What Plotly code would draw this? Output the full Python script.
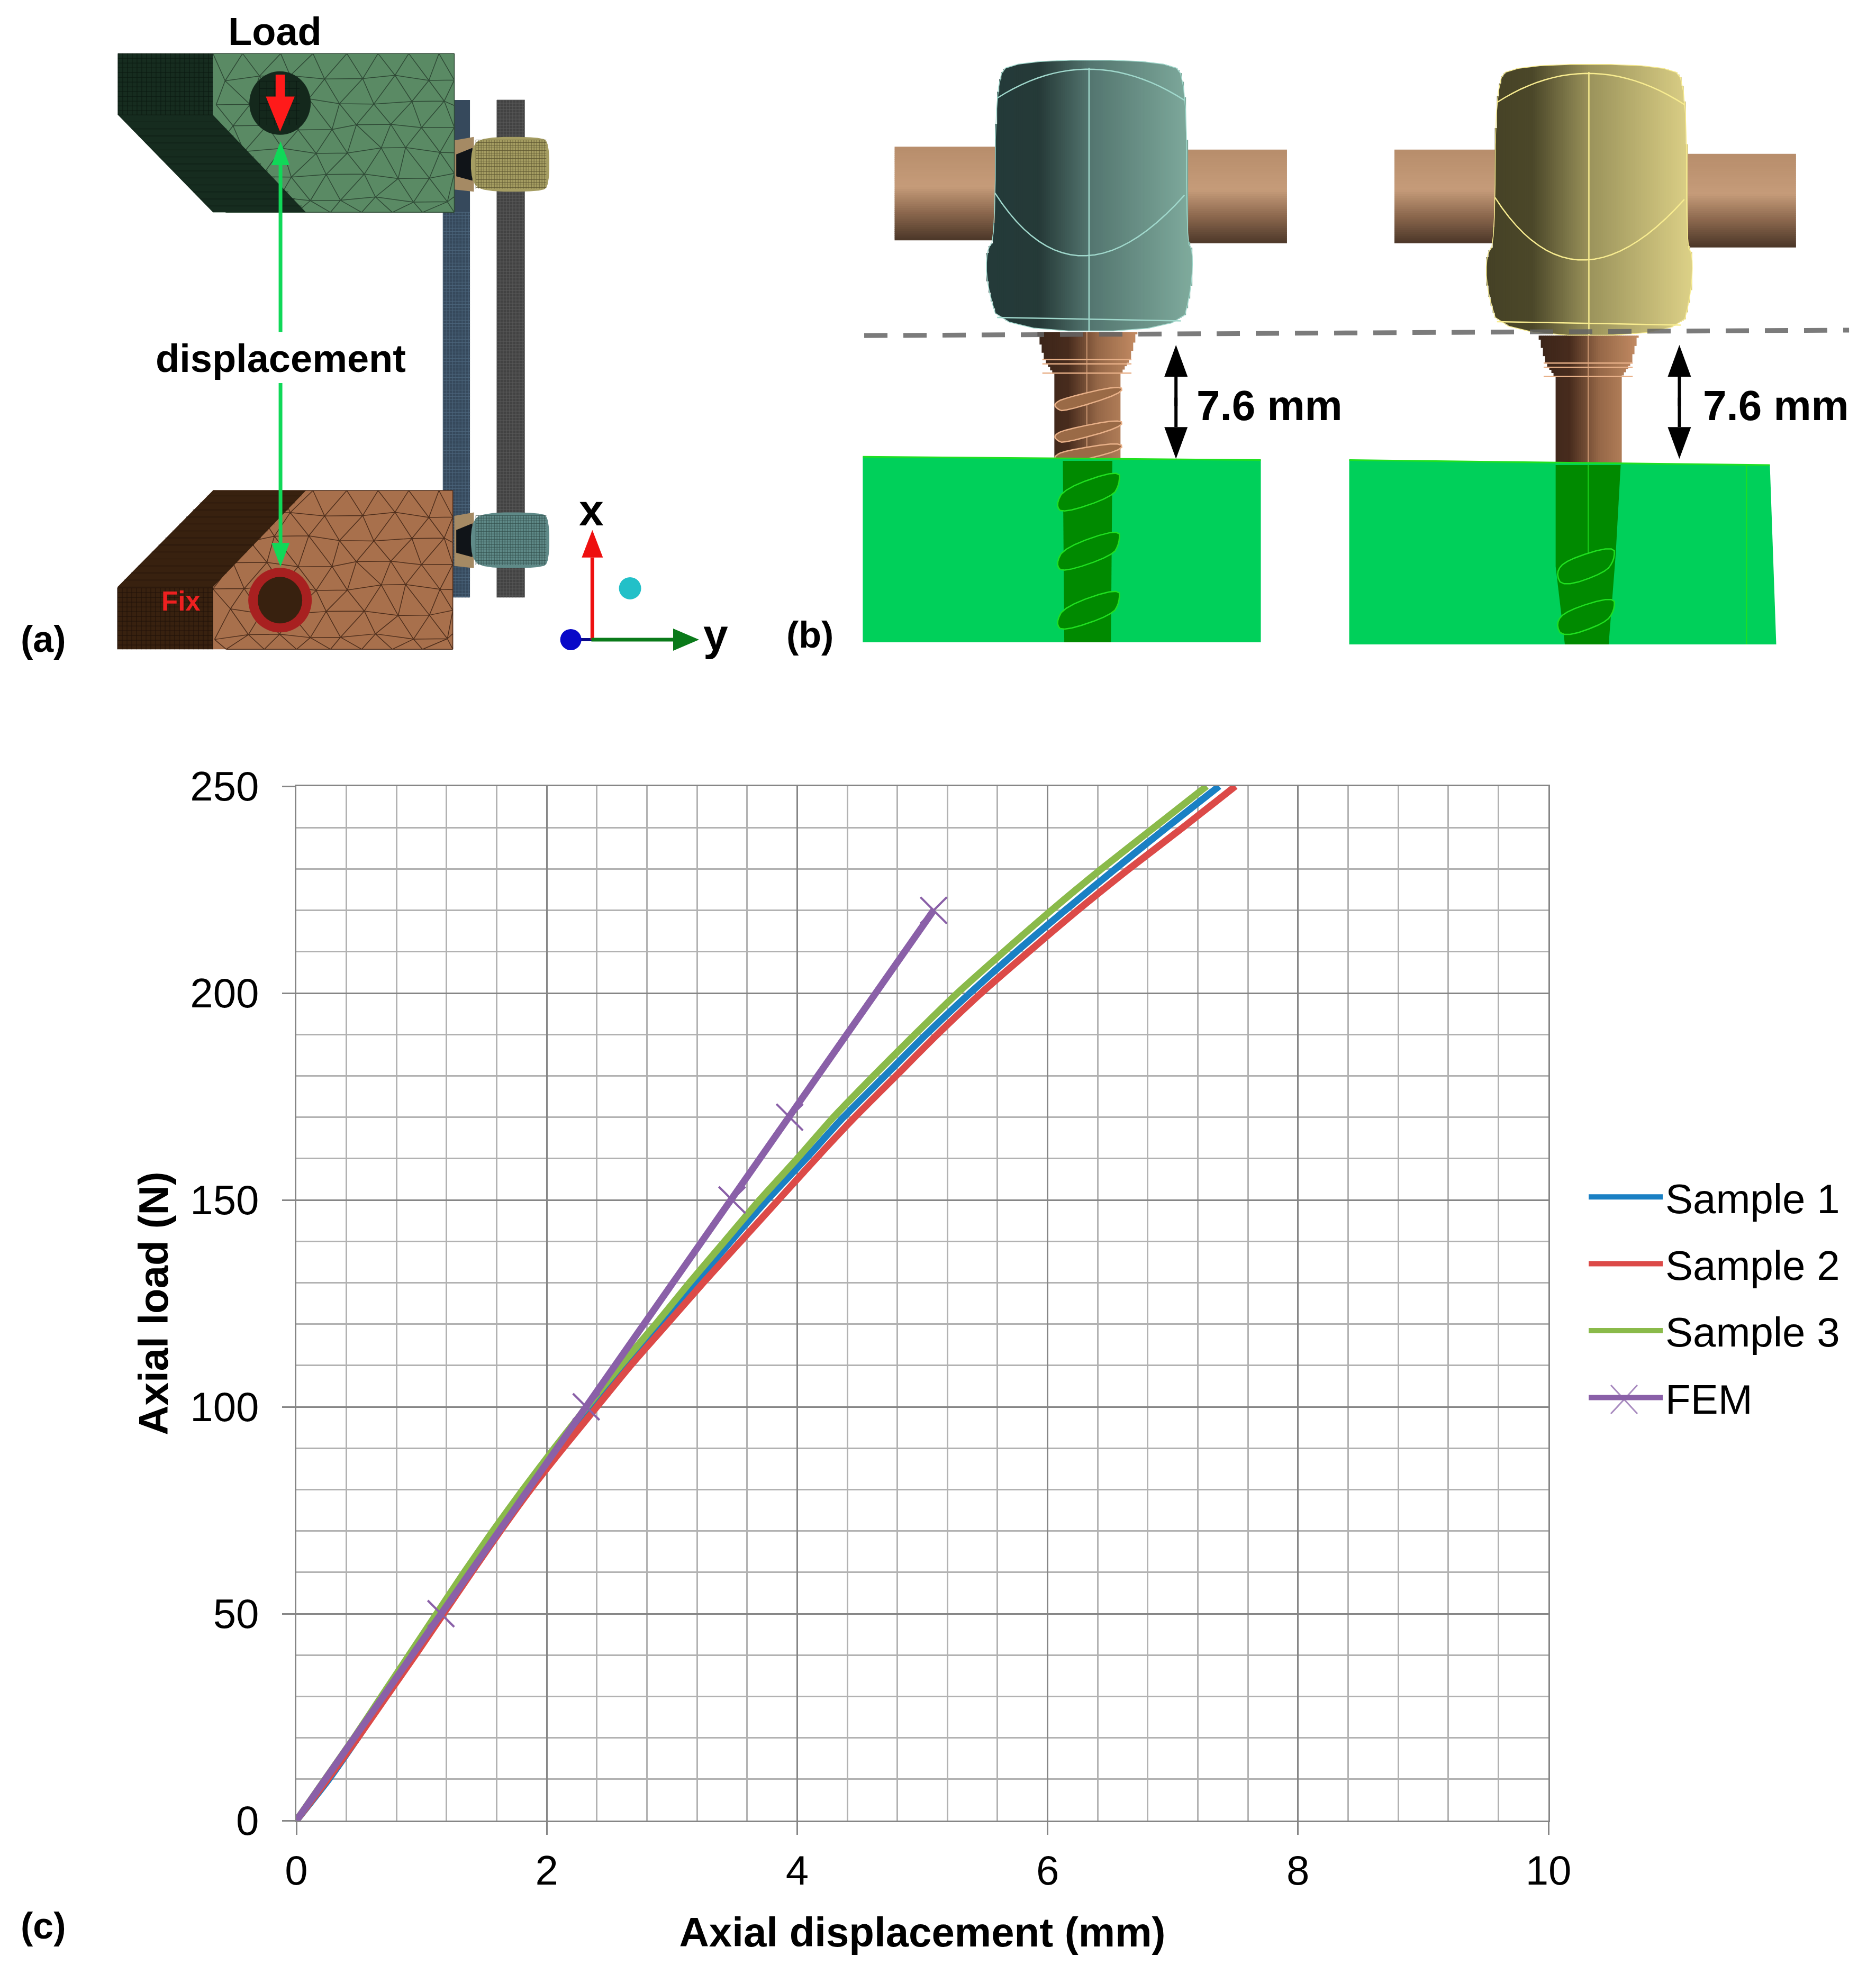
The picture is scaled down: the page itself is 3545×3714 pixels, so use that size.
import numpy as np
import plotly.graph_objects as go

W, H = 3545, 3714
# plot area in page pixels, and the page's own body margin
(PL, PR, PT, PB) = (560, 2926, 1486, 3441)
BODY = 8

###############################################################################
# Chart data
###############################################################################
SERIES = ['Sample 1', 'Sample 2', 'Sample 3', 'FEM']
COLORS = ['#1a80c4', '#dc4a48', '#8aba4a', '#8a60a8']
LOADS = [0, 10, 20, 30, 40, 50, 60, 70, 80, 90, 100, 110, 120, 130, 140, 150,
         160, 170, 180, 190, 200, 210, 220, 230, 240, 250]
SAMPLE1 = [0, .26, .49, .71, .93, 1.15, 1.38, 1.61, 1.85, 2.10, 2.36, 2.64,
           2.92, 3.19, 3.47, 3.76, 4.07, 4.37, 4.70, 5.03, 5.38, 5.75, 6.14,
           6.54, 6.95, 7.37]
SAMPLE2 = [0, .25, .49, .72, .95, 1.175, 1.40, 1.63, 1.87, 2.13, 2.40, 2.67,
           2.96, 3.25, 3.55, 3.85, 4.15, 4.46, 4.79, 5.12, 5.47, 5.85, 6.24,
           6.65, 7.08, 7.50]
SAMPLE3 = [0, .23, .46, .68, .90, 1.12, 1.34, 1.57, 1.81, 2.06, 2.32, 2.59,
           2.87, 3.14, 3.42, 3.70, 4.00, 4.29, 4.61, 4.94, 5.28, 5.65, 6.03,
           6.43, 6.85, 7.27]
FEM_X = [0, 1.155, 2.315, 3.48, 3.94, 5.09]
FEM_Y = [0, 50, 100, 150, 170, 220]

FONT = 'Liberation Sans'
shapes, notes = [], []


# Page pixels -> paper coordinates ---------------------------------------------
def fx(x):
    return (x - PL) / (PR - PL)


def fy(y):
    return (PB - y) / (PB - PT)


# Crop coordinates of the two drawings -> page pixels --------------------------
def A(X, Y):
    return (X / 1.081, Y / 1.206)


def B(X, Y):
    return (1450 + X / .7485, 50 + Y / 1.2544)


def pathOf(pts, close=True):
    s = 'M' + ' L'.join('{:.5f},{:.5f}'.format(fx(x), fy(y)) for (x, y) in pts)
    return s + (' Z' if close else '')


def poly(pts, fill, line=None, lw=0):
    shapes.append(dict(
        type='path', xref='paper', yref='paper', path=pathOf(pts),
        fillcolor=fill, line=dict(color=line or fill, width=lw)
    ))


def stroke(pts, color, lw, dash=None):
    shapes.append(dict(
        type='path', xref='paper', yref='paper', path=pathOf(pts, False),
        line=dict(color=color, width=lw, dash=dash or 'solid')
    ))


def multi(segs, color, lw):
    # Many line pieces in one path, so the mesh stays light
    s = ' '.join(pathOf(seg, False) for seg in segs)
    shapes.append(dict(
        type='path', xref='paper', yref='paper', path=s,
        line=dict(color=color, width=lw)
    ))


def ellipse(cx, cy, rx, ry, fill):
    shapes.append(dict(
        type='circle', xref='paper', yref='paper', fillcolor=fill,
        x0=fx(cx - rx), x1=fx(cx + rx), y0=fy(cy + ry), y1=fy(cy - ry),
        line=dict(width=0)
    ))


def text(x, y, s, size, color='#000000', bold=True):
    notes.append(dict(
        xref='paper', yref='paper', x=fx(x), y=fy(y), showarrow=False,
        text='<b>{}</b>'.format(s) if bold else s, xanchor='center',
        yanchor='middle', font=dict(family=FONT, size=size, color=color)
    ))


def mixColor(stops, t):
    for (i, (t1, c1)) in enumerate(stops[1:]):
        t0, c0 = stops[i]
        if t <= t1:
            k = (t - t0) / (t1 - t0)
            rgb = [int(c0[j] + (c1[j] - c0[j]) * k) for j in range(3)]
            return 'rgb({},{},{})'.format(*rgb)
    return 'rgb({},{},{})'.format(*stops[-1][1])


def scan(pts, v, axis):
    # Where the outline crosses a scan line
    cross = []
    for i in range(len(pts)):
        p, q = pts[i], pts[(i + 1) % len(pts)]
        if (p[axis] - v) * (q[axis] - v) <= 0 and p[axis] != q[axis]:
            k = (v - p[axis]) / (q[axis] - p[axis])
            cross.append(p[1 - axis] + k * (q[1 - axis] - p[1 - axis]))
    return (min(cross), max(cross)) if cross else None


def gradient(pts, stops, axis=0, step=4):
    # Shaded solid drawn as thin strips, across x (axis=0) or y (axis=1)
    vals = [p[axis] for p in pts]
    (lo, hi) = (min(vals), max(vals))
    for v in np.arange(lo, hi, step):
        span = scan(pts, v + step / 2, axis)
        if span is None:
            continue
        col = mixColor(stops, (v - lo) / (hi - lo))
        if axis == 0:
            rect = [(v, span[0]), (v + step + 1, span[0]),
                    (v + step + 1, span[1]), (v, span[1])]
        else:
            rect = [(span[0], v), (span[1], v),
                    (span[1], v + step + 1), (span[0], v + step + 1)]
        poly(rect, col)


def bezier(p0, p1, p2, n=24):
    t = np.linspace(0, 1, n)
    return [((1 - k)**2 * p0[0] + 2 * k * (1 - k) * p1[0] + k**2 * p2[0],
             (1 - k)**2 * p0[1] + 2 * k * (1 - k) * p1[1] + k**2 * p2[1])
            for k in t]


def rounded(pts, times=3):
    # Corner cutting, for the soft outlines of heads, nuts and threads
    for _ in range(times):
        out = []
        for i in range(len(pts)):
            p, q = pts[i], pts[(i + 1) % len(pts)]
            out.append((.75 * p[0] + .25 * q[0], .75 * p[1] + .25 * q[1]))
            out.append((.25 * p[0] + .75 * q[0], .25 * p[1] + .75 * q[1]))
        pts = out
    return pts


JIT = [-9, 5, -3, 8, -6, 2, 7, -8, 4, -2, 9, -5, 3, -7, 6]


def triMesh(x0, x1, y0, y1, dx, dy, color):
    # Triangle mesh on a rough lattice, its edges kept on the block's border
    cols = int((x1 - x0) / dx) + 1
    rows = int((y1 - y0) / dy) + 1
    grid = []
    for r in range(rows + 1):
        row = []
        for c in range(cols + 1):
            gx = min(x1, max(x0, x0 + c * dx + (dx / 2 if r % 2 else 0)
                             + JIT[(r * 7 + c * 4) % 15]))
            gy = min(y1, y0 + r * dy + JIT[(r * 3 + c * 8) % 15] * .7)
            gy = y0 if r == 0 else gy
            row.append((gx, gy))
        grid.append(row)
    segs = []
    for r in range(rows + 1):
        for c in range(cols + 1):
            if c < cols:
                segs.append([grid[r][c], grid[r][c + 1]])
            if r < rows:
                segs.append([grid[r][c], grid[r + 1][c]])
                d = c + 1 if r % 2 else c - 1
                if 0 <= d <= cols:
                    segs.append([grid[r][c], grid[r + 1][d]])
    multi(segs, color, 1.5)


def fineGrid(x0, x1, y0, y1, step, color, lw=1):
    segs = [[(x, y0), (x, y1)] for x in np.arange(x0, x1, step)]
    segs += [[(x0, y), (x1, y)] for y in np.arange(y0, y1, step)]
    multi(segs, color, lw)


def arrow(tail, tip, half, head, color, lw):
    (ax, ay) = tail
    (bx, by) = tip
    L = np.hypot(bx - ax, by - ay)
    (ux, uy) = ((bx - ax) / L, (by - ay) / L)
    (cx, cy) = (bx - ux * head, by - uy * head)
    stroke([(ax, ay), (cx, cy)], color, lw)
    poly([(bx, by), (cx - uy * half, cy + ux * half),
          (cx + uy * half, cy - ux * half)], color)


###############################################################################
# Panel (a): meshed model
###############################################################################
# Rods -------------------------------------------------------------------------
poly([A(928, 228), A(960, 228), A(960, 1362), A(905, 1362), A(905, 484), A(928, 484)], '#36495c')
fineGrid(A(905, 0)[0], A(960, 0)[0], A(0, 484)[1], A(0, 1362)[1], 6, '#4c667c')
poly([A(1015, 228), A(1072, 228), A(1072, 1362), A(1015, 1362)], '#424242')
fineGrid(A(1015, 0)[0], A(1072, 0)[0], A(0, 228)[1], A(0, 1362)[1], 6, '#5c5c5c')
# Nuts -------------------------------------------------------------------------
for (top, bot, col, dark) in ((312, 437, '#a59d62', '#5c5530'), (1168, 1295, '#5f8a88', '#2e4a48')):
    poly([A(928, top + 8), A(968, top), A(968, bot), A(928, bot - 5)], '#a58a64')
    poly([A(932, top + 40), A(965, top + 25), A(965, bot - 25), A(932, bot - 35)], '#101418')
    nut = [A(985, top), A(1105, top), A(1122, top + 14), A(1122, bot - 14),
           A(1105, bot), A(985, bot), A(962, bot - 25), A(962, top + 25)]
    poly(rounded(nut, 2), col)
    fineGrid(A(972, 0)[0], A(1116, 0)[0], A(0, top + 7)[1], A(0, bot - 7)[1], 5, dark, .8)
# Upper block ------------------------------------------------------------------
poly([A(435, 122), A(928, 122), A(928, 484), A(435, 484)], '#5a8a64')
(x0, y0), (x1, y1) = A(435, 122), A(928, 484)
triMesh(x0, x1, y0, y1, 62, 46, '#2f4a36')
poly([A(241, 122), A(435, 122), A(435, 262), A(625, 484), A(435, 484), A(241, 262)], '#162c1f')
fineGrid(A(241, 0)[0], A(435, 0)[0], A(0, 122)[1], A(0, 262)[1], 9, '#0c1a12')
multi([[A(241 + k, 262 + k * 1.14), A(435 + k, 262 + k * 1.14)] for k in range(0, 190, 14)],
      '#0c1a12', 1)
ellipse(*A(572, 235), 58, 60, '#14281c')
fineGrid(A(530, 0)[0], A(612, 0)[0], A(0, 185)[1], A(0, 285)[1], 14, '#0c1a12')
poly([A(563, 170), A(582, 170), A(582, 220), A(602, 220), A(572, 300), A(543, 220), A(563, 220)], '#ff1a1a')
# Lower block ------------------------------------------------------------------
poly([A(435, 1118), A(925, 1118), A(925, 1480), A(435, 1480)], '#a8704c')
(x0, y0), (x1, y1) = A(435, 1118), A(925, 1480)
triMesh(x0, x1, y0, y1, 62, 46, '#4e2e1c')
poly([A(435, 1118), A(625, 1118), A(435, 1338), A(435, 1480), A(240, 1480), A(240, 1338)], '#38210f')
multi([[A(240 + k, 1338 - k * 1.14), A(435 + k, 1338 - k * 1.14)] for k in range(0, 190, 14)],
      '#20120a', 1)
fineGrid(A(240, 0)[0], A(435, 0)[0], A(0, 1340)[1], A(0, 1480)[1], 9, '#20120a')
ellipse(*A(572, 1368), 60, 61, '#a82020')
ellipse(*A(572, 1368), 42, 44, '#38210f')
# Displacement arrow -----------------------------------------------------------
arrow(A(573, 757), A(573, 322), 17, 45, '#10d858', 7)
arrow(A(573, 873), A(573, 1292), 17, 45, '#10d858', 7)
# Axes triad -------------------------------------------------------------------
stroke([A(1166, 1458), A(1210, 1458)], '#0a0a8a', 6)
ellipse(*A(1166, 1458), 20, 20, '#0808c8')
ellipse(*A(1287, 1341), 21, 21, '#22c0c8')
arrow(A(1210, 1458), A(1210, 1208), 20, 52, '#ee1010', 7)
arrow(A(1208, 1458), A(1428, 1458), 21, 49, '#0a7a1a', 7)
# Panel (a) labels -------------------------------------------------------------
text(519, 59, 'Load', 74)
text(530, 678, 'displacement', 74)
text(342, 1136, 'Fix', 51, '#ee2020')
text(1117, 964, 'x', 84)
text(1352, 1200, 'y', 84)
text(82, 1208, '(a)', 70)

###############################################################################
# Panel (b): screws in bone blocks
###############################################################################
PEG = [(0, (184, 142, 108)), (.42, (198, 156, 122)), (.7, (140, 104, 78)), (1, (74, 54, 40))]
BROWN = [(0, (60, 38, 26)), (.3, (72, 44, 30)), (.6, (150, 104, 72)), (1, (196, 140, 100))]
TEAL = [(0, (36, 58, 58)), (.25, (38, 58, 56)), (.5, (84, 118, 112)), (1, (128, 172, 158))]
SAND = [(0, (70, 66, 38)), (.22, (76, 72, 42)), (.5, (156, 148, 92)), (1, (222, 210, 136))]


def screwHead(dx, dy, stops, edge):
    outline = [(345, 80), (570, 80), (593, 130), (593, 510), (602, 530),
               (600, 620), (585, 722), (330, 722), (310, 610), (310, 530),
               (322, 505), (323, 130)]
    pts = rounded([B(X + dx, Y + dy) for (X, Y) in outline], 2)
    gradient(pts, stops)
    cx = 455 + dx
    arcs = [
        bezier(B(325 + dx, 170 + dy), B(cx, 30 + dy), B(590 + dx, 175 + dy)),
        bezier(B(322 + dx, 395 + dy), B(cx - 20, 690 + dy), B(590 + dx, 400 + dy)),
        [B(cx, 98 + dy), B(cx, 722 + dy)],
        [B(325 + dx, 690 + dy), B(585 + dx, 698 + dy)],
    ]
    for arc in arcs:
        stroke(arc, edge, 2.5)
    stroke(pts + [pts[0]], edge, 1.5)


def neck(top, mid, low, dy, cx, bottom):
    outline = [(cx - top, 725 + dy), (cx + top, 725 + dy), (cx + mid, 790 + dy),
               (cx + low, 825 + dy), (cx + low, bottom), (cx - low, bottom),
               (cx - low, 825 + dy), (cx - mid, 790 + dy)]
    gradient([B(X, Y) for (X, Y) in outline], BROWN)
    for Y in (790, 800, 822):
        stroke([B(cx - mid - 3, Y + dy), B(cx + mid + 3, Y + dy)], '#e8b088', 2.5)
    stroke([B(cx, 725 + dy), B(cx, bottom)], '#e0a880', 1.5)


def threadBand(pts, fill, edge, lw=2.5):
    # One thread turn, with soft corners
    soft = rounded([B(X, Y) for (X, Y) in pts], 2)
    poly(soft, fill)
    stroke(soft + [soft[0]], edge, lw)


# Pegs ---------------------------------------------------------------------
for (Xa, Xb, Ya, Yb) in ((180, 330, 285, 505), (585, 735, 292, 515), (887, 1035, 292, 513), (1295, 1455, 302, 522)):
    gradient([B(Xa, Ya), B(Xb, Ya), B(Xb, Yb), B(Xa, Yb)], PEG, axis=1)
# Shafts -------------------------------------------------------------------
neck(70, 60, 47, 0, 452, 1030)
neck(70, 60, 46, 8, 1161, 1038)
for (Y, Y2) in ((895, 850), (970, 930), (1020, 985)):
    threadBand([(405, Y), (420, Y - 14), (500, Y2), (502, Y2 + 20), (420, Y + 18), (410, Y + 12)],
               '#9a6a46', '#e8b088')
# Heads --------------------------------------------------------------------
screwHead(0, 0, TEAL, '#a0d8cc')
screwHead(707, 10, SAND, '#f8ec90')
# Blocks -------------------------------------------------------------------
poly([B(135, 1020), B(698, 1028), B(698, 1460), B(135, 1460)], '#00d05a')
poly([B(823, 1028), B(1418, 1040), B(1427, 1465), B(823, 1465)], '#00d05a')
stroke([B(135, 1020), B(698, 1028)], '#20e020', 3)
stroke([B(823, 1028), B(1418, 1040)], '#20e020', 3)
stroke([B(1385, 1040), B(1385, 1465)], '#20e020', 2)
# Screw parts seen through the blocks --------------------------------------
poly([B(418, 1030), B(488, 1030), B(486, 1460), B(420, 1460)], '#008a00')
for Yc in (1090, 1230, 1370):
    threadBand([(408, Yc + 45), (420, Yc + 5), (498, Yc - 40), (498, Yc - 5), (488, Yc + 25), (418, Yc + 65)],
               '#008a00', '#20e020')
poly([B(1115, 1040), B(1207, 1040), B(1200, 1250), B(1190, 1465), B(1128, 1465), B(1115, 1280)], '#008a00')
for Yc in (1280, 1400):
    threadBand([(1115, Yc + 15), (1130, Yc - 15), (1198, Yc - 50), (1198, Yc - 15), (1185, Yc + 15), (1125, Yc + 50)],
               '#008a00', '#20e020')
stroke([B(1161, 1040), B(1161, 1250)], '#20e020', 1.5)
# Dashed level and dimension arrows ----------------------------------------
stroke([B(137, 733), B(1530, 720)], 'rgba(100,100,100,0.85)', 9, dash='44px,30px')
for X in (578, 1290):
    arrow(B(X, 900), B(X, 755), 22, 60, '#000000', 6)
    arrow(B(X, 880), B(X, 1025), 22, 60, '#000000', 6)
text(2399, 766, '7.6 mm', 80)
text(3356, 766, '7.6 mm', 80)
text(1530, 1200, '(b)', 70)

###############################################################################
# Panel (c): load curves
###############################################################################
fig = go.Figure()
for (name, xs, col) in zip(SERIES[:3], (SAMPLE1, SAMPLE2, SAMPLE3), COLORS[:3]):
    fig.add_trace(go.Scatter(
        x=xs, y=LOADS, name=name, mode='lines', legendgroup=name,
        line=dict(color=col, width=13, shape='spline', smoothing=.6)
    ))
fig.add_trace(go.Scatter(
    x=FEM_X, y=FEM_Y, name=SERIES[3], mode='lines', legendgroup=SERIES[3],
    line=dict(color=COLORS[3], width=13)
))
fig.add_trace(go.Scatter(
    x=FEM_X[1:], y=FEM_Y[1:], name=SERIES[3], mode='markers', showlegend=False,
    legendgroup=SERIES[3],
    marker=dict(symbol='x-thin', size=50, line=dict(color=COLORS[3], width=4))
))
# The legend caps marker sizes, so its cross is drawn by hand
legX, legY = 3069, 2645
multi([[(legX - 25, legY - 27), (legX + 25, legY + 27)],
       [(legX - 25, legY + 27), (legX + 25, legY - 27)]], '#a98cc0', 3)
text(82, 3640, '(c)', 70)

AXIS = dict(
    showline=True, linecolor='#868686', linewidth=3, ticks='outside', ticklen=24,
    tickwidth=3, tickcolor='#868686', showgrid=True, gridcolor='#868686', gridwidth=3,
    zeroline=False, tickfont=dict(family=FONT, size=78, color='#000000'),
    mirror=True
)
MINOR = dict(showgrid=True, gridcolor='#b2b2b2', gridwidth=3, ticks='')
fig.update_xaxes(
    range=[0, 10], tickvals=[0, 2, 4, 6, 8, 10], minor=dict(dtick=.4, **MINOR),
    title=dict(text='<b>Axial displacement (mm)</b>', standoff=47,
               font=dict(family=FONT, size=78, color='#000000')),
    **AXIS
)
fig.update_yaxes(
    range=[0, 250], tickvals=[0, 50, 100, 150, 200, 250], minor=dict(dtick=10, **MINOR),
    title=dict(text='<b>Axial load (N)</b>', standoff=16,
               font=dict(family=FONT, size=78, color='#000000')),
    ticklabelstandoff=28, **AXIS
)
fig.update_layout(
    width=W - 2 * BODY, height=H - 2 * BODY, autosize=False, showlegend=True,
    margin=dict(l=PL - BODY, r=W - BODY - PR, t=PT - BODY, b=H - BODY - PB, pad=0),
    paper_bgcolor='#ffffff', plot_bgcolor='#ffffff', shapes=shapes, annotations=notes,
    font=dict(family=FONT, color='#000000'),
    legend=dict(
        x=fx(2997), y=fy(2205), xanchor='left', yanchor='top', itemwidth=140,
        bgcolor='rgba(0,0,0,0)', tracegroupgap=22, traceorder='grouped',
        font=dict(family=FONT, size=78, color='#000000')
    )
)
fig.write_html('out.html')
